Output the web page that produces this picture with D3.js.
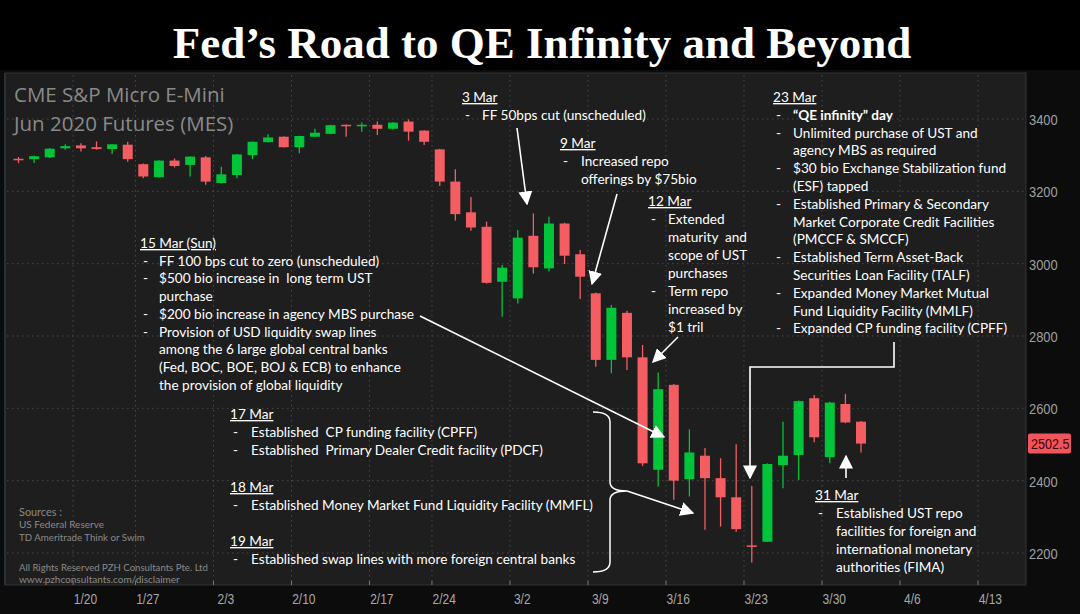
<!DOCTYPE html>
<html><head><meta charset="utf-8">
<script src="https://cdn.jsdelivr.net/npm/d3@7"></script>
<style>
html,body{margin:0;padding:0;background:#000;}
svg{display:block;}
</style></head>
<body>
<script>
// ---------------- DATA ----------------
const dates = ["1/14","1/15","1/16","1/17","1/21","1/22","1/23","1/24","1/27","1/28","1/29","1/30","1/31",
 "2/3","2/4","2/5","2/6","2/7","2/10","2/11","2/12","2/13","2/14","2/18","2/19","2/20","2/21",
 "2/24","2/25","2/26","2/27","2/28","3/2","3/3","3/4","3/5","3/6","3/9","3/10","3/11","3/12","3/13",
 "3/16","3/17","3/18","3/19","3/20","3/23","3/24","3/25","3/26","3/27","3/30","3/31","4/1"];
const open  = [3290,3289,3294,3319,3327,3322,3317,3329,3275,3239,3285,3273,3294,
 3223,3245,3300,3336,3351,3322,3351,3359,3384,3381,3384,3373,3393,3368,
 3316,3227,3142,3102,2950,2904,3077,2987,3111,3026,2918,2734,2864,2741,2430,
 2665,2404,2469,2407,2354,2221,2231,2443,2471,2628,2465,2612,2563];
const high  = [3295,3299,3320,3330,3333,3338,3331,3337,3277,3286,3291,3297,3298,
 3268,3303,3338,3358,3352,3354,3373,3384,3385,3390,3393,3392,3399,3369,
 3318,3261,3184,3116,2996,3093,3139,3130,3113,3038,2920,2886,2870,2775,2699,
 2667,2542,2490,2462,2501,2385,2448,2563,2622,2637,2618,2640,2565];
const low   = [3278,3278,3292,3315,3310,3315,3303,3282,3236,3238,3266,3241,3218,
 3222,3236,3289,3335,3321,3305,3350,3358,3351,3365,3356,3371,3340,3328,
 3215,3119,3091,2945,2853,2890,2973,2978,2999,2902,2715,2697,2706,2441,2384,
 2347,2356,2264,2273,2259,2174,2230,2379,2402,2506,2448,2559,2478];
const close = [3288,3297,3318,3325,3319,3317,3330,3289,3241,3285,3270,3296,3227,
 3247,3302,3337,3349,3322,3353,3362,3383,3381,3384,3373,3390,3365,3337,
 3227,3137,3100,2947,2989,3072,2990,3111,3022,2964,2734,2878,2741,2448,2653,
 2400,2478,2407,2354,2266,2218,2446,2469,2620,2520,2616,2561,2502.5];
const yTicks = [2200,2400,2600,2800,3000,3200,3400];
const xTickIdx = [4,8,13,18,23,27,32,37,42,47,52,57,62];
const xTickLabels = ["1/20","1/27","2/3","2/10","2/17","2/24","3/2","3/9","3/16","3/23","3/30","4/6","4/13"];
const lastPrice = 2502.5;

// ---------------- LAYOUT ----------------
const W = 1080, H = 614;
const svg = d3.select("body").append("svg").attr("width", W).attr("height", H);
const defs = svg.append("defs");
defs.append("marker").attr("id","ah").attr("viewBox","0 0 10 10").attr("refX",9).attr("refY",5)
  .attr("markerWidth",14).attr("markerHeight",14).attr("orient","auto-start-reverse")
  .attr("markerUnits","userSpaceOnUse")
  .append("path").attr("d","M0,0 L10,5 L0,10 z").attr("fill","#fff");

svg.append("rect").attr("width",W).attr("height",H).attr("fill","#000");
svg.append("rect").attr("x",0).attr("y",70).attr("width",W).attr("height",H-70).attr("fill","#0c0c0c");
const panel = {x0:5, x1:1026, y0:73, y1:585};
svg.append("rect").attr("x",panel.x0).attr("y",panel.y0).attr("width",panel.x1-panel.x0).attr("height",panel.y1-panel.y0)
  .attr("fill","#1e1e1e").attr("stroke","#333").attr("stroke-width",1);
svg.append("line").attr("x1",5).attr("x2",5).attr("y1",73).attr("y2",585).attr("stroke","#27323c").attr("stroke-width",2);

// title
svg.append("text").attr("x",542).attr("y",58).attr("text-anchor","middle")
  .attr("font-family","'Liberation Serif','Times New Roman',serif").attr("font-weight","bold")
  .attr("font-size",45).attr("fill","#fff").text("Fed\u2019s Road to QE Infinity and Beyond");

const x = d3.scaleLinear().domain([0, 54]).range([18.5, 861]);
const y = d3.scaleLinear().domain([2200, 3400]).range([553, 119]);

// grid
const grid = svg.append("g");
grid.selectAll("line.h").data(yTicks).join("line").attr("class","h")
  .attr("x1",panel.x0+2).attr("x2",panel.x1).attr("y1",d=>y(d)).attr("y2",d=>y(d))
  .attr("stroke","#4a4a4a").attr("stroke-dasharray","1.5,3.5");
grid.selectAll("line.v").data(xTickIdx).join("line").attr("class","v")
  .attr("x1",d=>x(d-0.5)).attr("x2",d=>x(d-0.5)).attr("y1",panel.y0+2).attr("y2",panel.y1)
  .attr("stroke","#4a4a4a").attr("stroke-dasharray","1.5,3.5");
grid.selectAll("line.t").data(xTickIdx).join("line").attr("class","t")
  .attr("x1",d=>x(d-0.5)).attr("x2",d=>x(d-0.5)).attr("y1",panel.y1-4).attr("y2",panel.y1)
  .attr("stroke","#777");

// condense helper (narrow axis font look)
function condense(sel, k){
  sel.each(function(){
    const w = this.getComputedTextLength();
    d3.select(this).attr("textLength", w*k).attr("lengthAdjust","spacingAndGlyphs");
  });
}
// shrink font so that the text is at most w wide
function fitFont(sel, w, fs){
  sel.each(function(){
    const n = this.getComputedTextLength();
    if(n > w) d3.select(this).attr("font-size", fs*w/n);
  });
}
const axisFont = "'Liberation Sans','Arial',sans-serif";

// y axis
const yAxis = svg.append("g").attr("transform",`translate(${panel.x1},0)`)
  .call(d3.axisRight(y).tickValues(yTicks).tickSize(0).tickFormat(d3.format("d")));
yAxis.select(".domain").remove();
yAxis.selectAll("text").attr("font-family",axisFont).attr("font-size",15).attr("fill","#a0a0a0").attr("x",3).attr("dy","0.36em");
condense(yAxis.selectAll("text"), 0.86);

// x axis
const xAxis = svg.append("g").attr("transform",`translate(4,${panel.y1})`)
  .call(d3.axisBottom(x).tickValues(xTickIdx).tickSize(0).tickFormat((d,i)=>xTickLabels[i]));
xAxis.select(".domain").remove();
xAxis.selectAll("text").attr("font-family",axisFont).attr("font-size",15).attr("fill","#a8a8a8").attr("dy","1.05em");
condense(xAxis.selectAll("text"), 0.8);

// candles
const RED = "#f45e62", GREEN = "#00c43a";
const candles = svg.append("g");
const bw = 10;
const cd = dates.map((d,i)=>({i, o:open[i], h:high[i], l:low[i], c:close[i]}));
candles.selectAll("line").data(cd).join("line")
  .attr("x1",d=>x(d.i)).attr("x2",d=>x(d.i)).attr("y1",d=>y(d.h)).attr("y2",d=>y(d.l))
  .attr("stroke",d=>d.c>=d.o?GREEN:RED).attr("stroke-width",1.3);
candles.selectAll("rect").data(cd).join("rect")
  .attr("x",d=>x(d.i)-bw/2).attr("width",bw)
  .attr("y",d=>y(Math.max(d.o,d.c))).attr("height",d=>Math.max(1.5, Math.abs(y(d.o)-y(d.c))))
  .attr("fill",d=>d.c>=d.o?GREEN:RED);

// last price tag
svg.append("rect").attr("x",panel.x1+2).attr("y",y(lastPrice)-10).attr("width",43).attr("height",20).attr("rx",2)
  .attr("fill","#f0545c");
const tag = svg.append("text").attr("x",panel.x1+5).attr("y",y(lastPrice)+5.5)
  .attr("font-family",axisFont).attr("font-size",15).attr("fill","#3a0606").text(d3.format(".1f")(lastPrice));
condense(tag, 0.84);

// instrument label
const lab = svg.append("g").attr("font-family","'Open Sans','Noto Sans',sans-serif").attr("font-size",20.5).attr("fill","#8a8a8a");
lab.append("text").attr("x",14).attr("y",102).text("CME S&P Micro E-Mini");
lab.append("text").attr("x",14).attr("y",131).text("Jun 2020 Futures (MES)");

// sources
const src = svg.append("g").attr("font-family","Lato,'Noto Sans',sans-serif").attr("fill","#8a8a8a");
[["Sources :",516,43],["US Federal Reserve",528,85],["TD Ameritrade Think or Swim",541,126],
 ["All Rights Reserved PZH Consultants Pte. Ltd",571,189],["www.pzhconsultants.com/disclaimer",583,161]]
 .forEach(([t,yy,w])=>fitFont(src.append("text").attr("x",19).attr("y",yy).attr("font-size",11).text(t), w, 11));

// annotations
const AF = "Lato,'Noto Sans',sans-serif";
const FS = 13.6;
function block(x0, y0, head, items, opts={}){
  const g = svg.append("g").attr("font-family",AF).attr("font-size",FS).attr("fill","#fff");
  const lh = opts.lh || 17.8;
  const dashX = x0 + (opts.dashOff||3), txtX = x0 + (opts.textOff||20);
  g.append("text").attr("x",x0).attr("y",y0).attr("text-decoration","underline").text(head);
  let yy = y0;
  items.forEach(it=>{
    const lines = Array.isArray(it) ? it : [it];
    lines.forEach((ln,k)=>{
      yy += lh;
      if(k===0) g.append("text").attr("x",dashX).attr("y",yy).text("-");
      const t = g.append("text").attr("x",txtX).attr("y",yy).text(ln.replace(/  /g," \u00a0"));
      if(opts.boldFirst && it===items[0]) t.attr("font-weight","bold");
    });
  });
  return g;
}
block(462,102,"3 Mar",["FF 50bps cut (unscheduled)"],{textOff:20});
block(560,148,"9 Mar",[["Increased repo","offerings by $75bio"]],{textOff:21});
block(648,206,"12 Mar",[["Extended","maturity  and","scope of UST","purchases"],["Term repo","increased by","$1 tril"]],{textOff:20,lh:18});
block(140,248,"15 Mar (Sun)",["FF 100 bps cut to zero (unscheduled)",["$500 bio increase in  long term UST","purchase"],
  "$200 bio increase in agency MBS purchase",["Provision of USD liquidity swap lines","among the 6 large global central banks",
  "(Fed, BOC, BOE, BOJ & ECB) to enhance","the provision of global liquidity"]],{textOff:19,lh:17.7});
block(230,419,"17 Mar",["Established  CP funding facility (CPFF)","Established  Primary Dealer Credit facility (PDCF)"],{textOff:21,lh:18});
block(230,492,"18 Mar",["Established Money Market Fund Liquidity Facility (MMFL)"],{textOff:21,lh:18});
block(230,546,"19 Mar",["Established swap lines with more foreign central banks"],{textOff:21,lh:18});
block(773,102,"23 Mar",["\u201cQE infinity\u201d day",["Unlimited purchase of UST and","agency MBS as required"],
  ["$30 bio Exchange Stabilization fund","(ESF) tapped"],["Established Primary & Secondary","Market Corporate Credit Facilities","(PMCCF & SMCCF)"],
  ["Established Term Asset-Back","Securities Loan Facility (TALF)"],["Expanded Money Market Mutual","Fund Liquidity Facility (MMLF)"],
  "Expanded CP funding facility (CPFF)"],{textOff:20,lh:17.8,boldFirst:true});
block(815,500,"31 Mar",[["Established UST repo","facilities for foreign and","international monetary","authorities (FIMA)"]],{textOff:21,lh:18});

// arrows
const arr = svg.append("g").attr("stroke","#fff").attr("stroke-width",1.6).attr("fill","none");
function arrow(pts){
  arr.append("path").attr("d", d3.line()(pts)).attr("marker-end","url(#ah)");
}
arrow([[517,128],[527,204]]);
arrow([[617,194],[592,284]]);
arrow([[678,337],[653,362]]);
arrow([[420,316],[664,437]]);
arrow([[894,342],[894,367],[750,367],[750,478]]);
arrow([[846,478],[846,456]]);
arrow([[627,491],[693,513]]);
// brace
arr.append("path").attr("d","M593,412 Q610,412 610,422 L610,482 Q610,491 627,491 Q610,491 610,500 L610,562 Q610,572 593,572")
  .attr("stroke-width",1.5);
</script>
</body></html>
